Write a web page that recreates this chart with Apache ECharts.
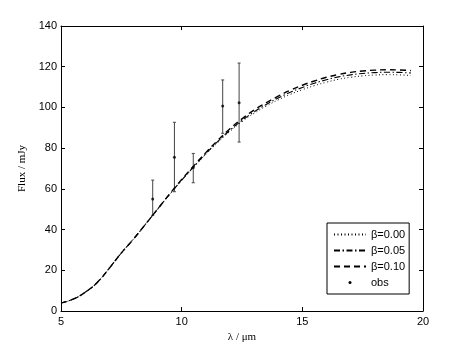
<!DOCTYPE html>
<html>
<head>
<meta charset="utf-8">
<script src="https://cdn.jsdelivr.net/npm/echarts@6/dist/echarts.min.js"></script>
<style>html,body{margin:0;padding:0;background:#fff}#c{width:467px;height:351px}</style>
</head>
<body>
<div id="c"></div>
<script>
// wavelength grid (µm)
var lambda = [5,5.5,6,6.5,7,7.5,8,8.5,9,9.5,10,10.5,11,11.5,12,12.5,13,13.5,14,14.5,15,15.5,16,16.5,17,17.5,18,18.5,19,19.5];
// model fluxes (mJy)
var flux000 = [3.9,5.8,9.2,14.0,21.0,28.5,35.3,42.6,50.0,57.2,64.1,70.6,76.9,82.8,88.2,93.0,97.1,100.6,103.7,106.4,108.7,110.7,112.4,113.8,114.8,115.5,115.9,116.1,116.0,115.7];
var flux005 = [3.9,5.8,9.2,14.0,21.0,28.5,35.3,42.6,50.0,57.3,64.3,70.9,77.3,83.3,88.8,93.6,97.8,101.4,104.6,107.4,109.8,111.9,113.6,115.0,116.0,116.7,117.1,117.3,117.2,116.9];
var flux010 = [3.9,5.8,9.2,14.0,21.0,28.5,35.3,42.6,50.0,57.5,64.6,71.3,77.8,83.9,89.5,94.4,98.7,102.3,105.5,108.4,110.9,113.0,114.8,116.2,117.2,117.9,118.3,118.5,118.4,118.1];
// observations
var obsX  = [8.8, 9.7, 10.48, 11.7, 12.38];
var obsY  = [55.0, 75.5, 70.5, 100.7, 102.3];
var obsLo = [47.0, 58.6, 63.0, 87.3, 83.0];
var obsHi = [64.3, 92.7, 77.4, 113.5, 121.8];
// ticks
var xTicks = {min: 5, max: 20, interval: 5};
var yTicks = {min: 0, max: 140, interval: 20};

function pairs(xs, ys){ return xs.map(function(x,i){ return [x, ys[i]]; }); }

var chart = echarts.init(document.getElementById('c'), null, {renderer:'canvas'});
var axisCol = '#000';
var tickFont = {fontFamily:'Liberation Sans, Arial, sans-serif', fontSize:11, color:'#000'};
function xa(pos, show){
  return {type:'value', position:pos, min:xTicks.min, max:xTicks.max, interval:xTicks.interval,
    axisLine:{show:true, onZero:false, lineStyle:{color:axisCol, width:1}},
    axisTick:{show:true, inside:true, length:4, lineStyle:{color:axisCol}},
    axisLabel:Object.assign({show:show, margin:5}, tickFont),
    splitLine:{show:false},
    name: show ? 'λ / μm' : '', nameLocation:'middle', nameGap:16,
    nameTextStyle:{fontFamily:'Liberation Serif, Times New Roman, serif', fontSize:11, color:'#000'}};
}
function ya(pos, show){
  return {type:'value', position:pos, min:yTicks.min, max:yTicks.max, interval:yTicks.interval,
    axisLine:{show:true, onZero:false, lineStyle:{color:axisCol, width:1}},
    axisTick:{show:true, inside:true, length:4, lineStyle:{color:axisCol}},
    axisLabel:Object.assign({show:show, margin:4}, tickFont),
    splitLine:{show:false},
    name: show ? 'Flux / mJy' : '', nameLocation:'middle', nameGap:27,
    nameTextStyle:{fontFamily:'Liberation Serif, Times New Roman, serif', fontSize:11, color:'#000'}};
}

var errData = obsX.map(function(x,i){ return [x, obsLo[i], obsHi[i]]; });

chart.setOption({
  animation:false,
  backgroundColor:'#fff',
  grid:{left:61, right:44, top:26, bottom:40},
  xAxis:[xa('bottom', true), xa('top', false)],
  yAxis:[ya('left', true), ya('right', false)],
  legend:{
    orient:'vertical', left:327, top:223,
    backgroundColor:'#fff', borderColor:'#000', borderWidth:1,
    padding:[5,4,5,6], itemWidth:32, itemHeight:3, itemGap:3,
    itemStyle:{opacity:0},
    textStyle:{fontFamily:'Liberation Sans, Arial, sans-serif', fontSize:11, color:'#000', lineHeight:13},
    data:['β=0.00','β=0.05','β=0.10',{name:'obs', itemStyle:{opacity:1}}]
  },
  series:[
    {name:'β=0.00', type:'line', data:pairs(lambda, flux000), symbol:'none', smooth:true,
      lineStyle:{color:'#000', width:1, type:[1,2.5]}, itemStyle:{color:'#000'}},
    {name:'β=0.05', type:'line', data:pairs(lambda, flux005), symbol:'none', smooth:true,
      lineStyle:{color:'#000', width:1.1, type:[6,2.5,1.5,2.5]}, itemStyle:{color:'#000'}},
    {name:'β=0.10', type:'line', data:pairs(lambda, flux010), symbol:'none', smooth:true,
      lineStyle:{color:'#000', width:1.4, type:[6,4]}, itemStyle:{color:'#000'}},
    {name:'err', type:'custom', data:errData, silent:true,
      renderItem:function(params, api){
        var x = api.value(0), lo = api.coord([x, api.value(1)]), hi = api.coord([x, api.value(2)]);
        var st = {stroke:'#444', lineWidth:1};
        return {type:'group', children:[
          {type:'line', shape:{x1:lo[0], y1:lo[1], x2:hi[0], y2:hi[1]}, style:st},
          {type:'line', shape:{x1:lo[0]-1.5, y1:lo[1], x2:lo[0]+1.5, y2:lo[1]}, style:st},
          {type:'line', shape:{x1:hi[0]-1.5, y1:hi[1], x2:hi[0]+1.5, y2:hi[1]}, style:st}
        ]};
      }},
    {name:'obs', type:'scatter', data:pairs(obsX, obsY), symbol:'circle', symbolSize:3,
      itemStyle:{color:'#000'}, z:5}
  ]
});
</script>
</body>
</html>
